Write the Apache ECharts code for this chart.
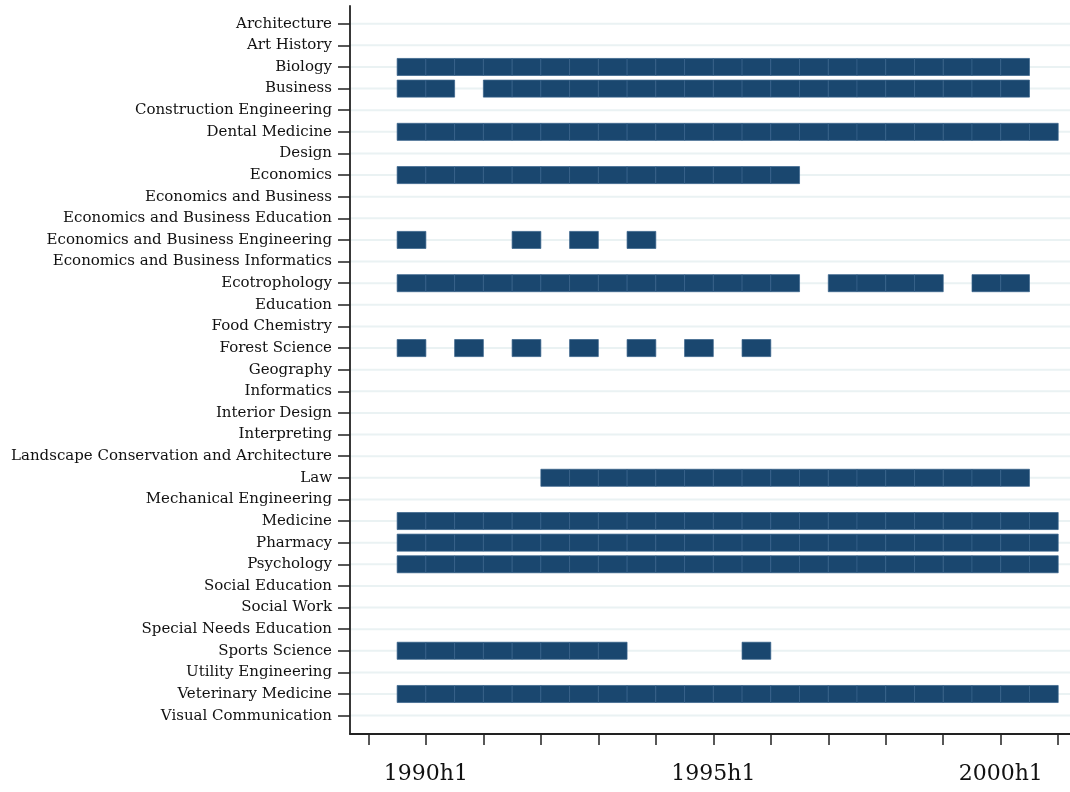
<!DOCTYPE html>
<html>
<head>
<meta charset="utf-8">
<style>
  html, body { margin: 0; padding: 0; background: #fff; }
  #chart { width: 1070px; height: 792px; }
</style>
<script src="https://cdn.jsdelivr.net/npm/echarts@6/dist/echarts.min.js"></script>
</head>
<body>
<div id="chart"></div>
<script>
// Fields of study (top to bottom)
const categories = [
  'Architecture', 'Art History', 'Biology', 'Business', 'Construction Engineering',
  'Dental Medicine', 'Design', 'Economics', 'Economics and Business',
  'Economics and Business Education', 'Economics and Business Engineering',
  'Economics and Business Informatics', 'Ecotrophology', 'Education', 'Food Chemistry',
  'Forest Science', 'Geography', 'Informatics', 'Interior Design', 'Interpreting',
  'Landscape Conservation and Architecture', 'Law', 'Mechanical Engineering', 'Medicine',
  'Pharmacy', 'Psychology', 'Social Education', 'Social Work', 'Special Needs Education',
  'Sports Science', 'Utility Engineering', 'Veterinary Medicine', 'Visual Communication'
];

// Spells of half-year periods (first and last period, inclusive)
const spellField = [
  'Biology', 'Business', 'Business', 'Dental Medicine', 'Economics',
  'Economics and Business Engineering', 'Economics and Business Engineering',
  'Economics and Business Engineering', 'Economics and Business Engineering',
  'Ecotrophology', 'Ecotrophology', 'Ecotrophology',
  'Forest Science', 'Forest Science', 'Forest Science', 'Forest Science',
  'Forest Science', 'Forest Science', 'Forest Science',
  'Law', 'Medicine', 'Pharmacy', 'Psychology',
  'Sports Science', 'Sports Science', 'Veterinary Medicine'
];
const spellStart = [
  '1989h2', '1989h2', '1991h1', '1989h2', '1989h2',
  '1989h2', '1991h2', '1992h2', '1993h2',
  '1989h2', '1997h1', '1999h2',
  '1989h2', '1990h2', '1991h2', '1992h2', '1993h2', '1994h2', '1995h2',
  '1992h1', '1989h2', '1989h2', '1989h2',
  '1989h2', '1995h2', '1989h2'
];
const spellEnd = [
  '2000h1', '1990h1', '2000h1', '2000h2', '1996h1',
  '1989h2', '1991h2', '1992h2', '1993h2',
  '1996h1', '1998h2', '2000h1',
  '1989h2', '1990h2', '1991h2', '1992h2', '1993h2', '1994h2', '1995h2',
  '2000h1', '2000h2', '2000h2', '2000h2',
  '1993h1', '1995h2', '2000h2'
];

// x-axis tick periods and labelled periods
const tickPeriods = ['1989h1','1990h1','1991h1','1992h1','1993h1','1994h1','1995h1',
                     '1996h1','1997h1','1998h1','1999h1','2000h1','2001h1'];
const labelPeriods = ['1990h1', '1995h1', '2000h1'];

const BASE_YEAR = 1989;
function toIndex(p) {
  const y = parseInt(p.slice(0, 4), 10);
  const h = parseInt(p.slice(5), 10);
  return (y - BASE_YEAR) * 2 + (h - 1);
}
function toLabel(t) {
  return (BASE_YEAR + Math.floor(t / 2)) + 'h' + (t % 2 + 1);
}

const cells = [];
spellField.forEach((f, i) => {
  const row = categories.indexOf(f);
  const s = toIndex(spellStart[i]);
  const e = toIndex(spellEnd[i]);
  for (let p = s; p <= e; p++) cells.push([p, row]);
});

const rowValues = categories.map((c, i) => i);
const FONT = 'DejaVu Serif';

const chart = echarts.init(document.getElementById('chart'), null, { renderer: 'canvas' });
chart.setOption({
  animation: false,
  backgroundColor: '#ffffff',
  grid: { left: 350, right: 0, top: 6, bottom: 58, containLabel: false },
  xAxis: {
    type: 'value',
    min: -0.64,
    max: 24.41,
    axisLine: { show: true, onZero: false, lineStyle: { color: '#222', width: 1.8 } },
    axisTick: {
      show: true, length: 11, inside: false,
      customValues: tickPeriods.map(toIndex),
      lineStyle: { color: '#222', width: 1.5 }
    },
    axisLabel: {
      customValues: labelPeriods.map(toIndex),
      formatter: v => toLabel(Math.round(v)),
      fontFamily: FONT, fontSize: 22, color: '#111', margin: 29
    },
    splitLine: { show: false }
  },
  yAxis: {
    type: 'value',
    inverse: true,
    min: -0.82,
    max: 32.85,
    axisLine: { show: true, onZero: false, lineStyle: { color: '#222', width: 1.8 } },
    axisTick: {
      show: true, length: 12,
      customValues: rowValues,
      lineStyle: { color: '#222', width: 1.5 }
    },
    axisLabel: {
      customValues: rowValues,
      formatter: v => categories[Math.round(v)],
      fontFamily: FONT, fontSize: 15, color: '#111', margin: 18
    },
    splitLine: { show: false }
  },
  series: [
    {
      type: 'custom',
      silent: true,
      z: 1,
      data: rowValues.map(i => [0, i]),
      encode: { x: 0, y: 1 },
      renderItem: function (params, api) {
        const y = api.coord([0, api.value(1)])[1];
        const cs = params.coordSys;
        return {
          type: 'line',
          shape: { x1: cs.x + 1, y1: y, x2: cs.x + cs.width, y2: y },
          style: { stroke: '#eaf2f3', lineWidth: 2 }
        };
      }
    },
    {
      type: 'custom',
      z: 2,
      data: cells,
      encode: { x: 0, y: 1 },
      renderItem: function (params, api) {
        const p = api.value(0), r = api.value(1);
        const a = api.coord([p, r]);
        const b = api.coord([p + 1, r]);
        const h = Math.abs(api.size([0, 0.79])[1]);
        return {
          type: 'rect',
          shape: { x: a[0], y: a[1] - h / 2, width: b[0] - a[0], height: h },
          style: { fill: '#1a476f', stroke: '#36618a', lineWidth: 0.7 }
        };
      }
    }
  ]
});
</script>
</body>
</html>
